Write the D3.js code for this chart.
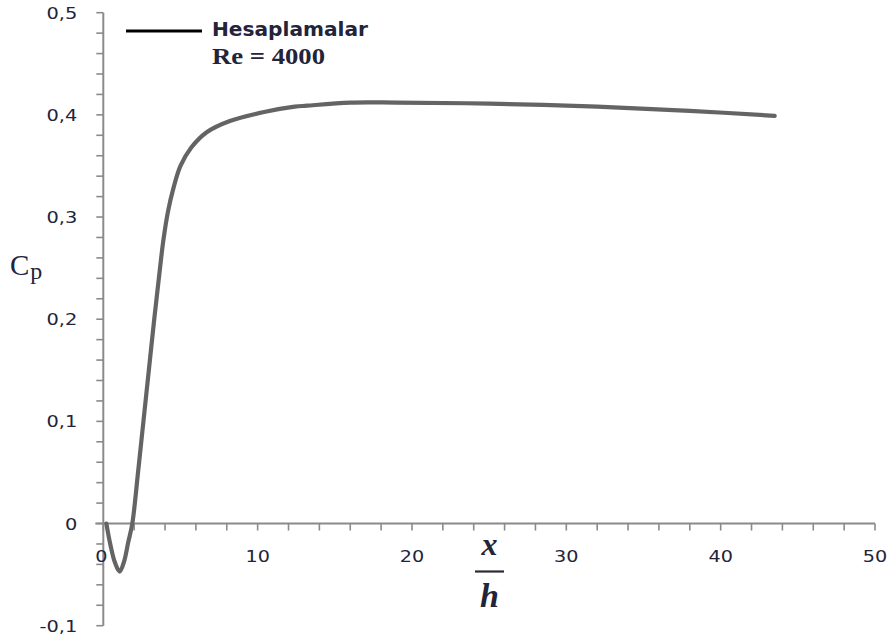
<!DOCTYPE html>
<html>
<head>
<meta charset="utf-8">
<script src="https://cdn.jsdelivr.net/npm/d3@7"></script>
<style>
  html, body { margin: 0; padding: 0; background: #fff; }
  svg { display: block; }
</style>
</head>
<body>
<svg id="chart" width="892" height="642"></svg>
<script>
// Pressure coefficient along the wall, Re = 4000
const xh = [0.2, 0.45, 0.75, 1.06, 1.35, 1.62, 1.88, 2.25, 2.6, 2.95, 3.3, 3.6, 3.89, 4.2, 4.54, 5.0, 5.7, 6.7, 8.2, 10.5, 12.4, 13.2, 16, 19, 25, 32, 38, 43.5];
const cp = [0, -0.02, -0.038, -0.047, -0.037, -0.018, 0, 0.05, 0.1, 0.15, 0.2, 0.24, 0.277, 0.306, 0.328, 0.35, 0.368, 0.383, 0.394, 0.403, 0.408, 0.409, 0.412, 0.412, 0.411, 0.408, 0.404, 0.399];

const xTicks = [0, 10, 20, 30, 40, 50];
const yTicks = [-0.1, 0, 0.1, 0.2, 0.3, 0.4, 0.5];
const legendTitle = "Hesaplamalar";
const legendSub = "Re = 4000";

const svg = d3.select("#chart");
const axisColor = "#8a8a8a";
const textColor = "#23233a";

const x = d3.scaleLinear().domain([0, 50]).range([103.3, 875]);
const y = d3.scaleLinear().domain([-0.1, 0.5]).range([625.7, 12.7]);

// decimal comma, plain hyphen for negatives
const yLabel = v => Math.abs(v) < 1e-9 ? "0" : (v < 0 ? "-" : "") + Math.abs(v).toFixed(1).replace(".", ",");

// y axis: major every 0.1, minor every 0.02
const yAxis = svg.append("g").attr("transform", `translate(${x(0)},0)`);
yAxis.append("line")
  .attr("x1", 0).attr("x2", 0)
  .attr("y1", y(0.5)).attr("y2", y(-0.1))
  .attr("stroke", axisColor).attr("stroke-width", 2);
yAxis.selectAll("line.tick")
  .data(d3.range(0, 31).map(i => -0.1 + i * 0.02))
  .join("line").attr("class", "tick")
  .attr("x1", -7).attr("x2", 0)
  .attr("y1", d => y(d)).attr("y2", d => y(d))
  .attr("stroke", axisColor).attr("stroke-width", 1.6);
yAxis.selectAll("text")
  .data(yTicks)
  .join("text")
  .attr("transform", d => `translate(-26,${y(d) + 6}) scale(1.25,1)`)
  .attr("text-anchor", "end")
  .attr("font-family", "DejaVu Sans, Verdana, sans-serif")
  .attr("font-size", 15.5)
  .attr("fill", textColor)
  .text(d => yLabel(d));

// x axis at Cp = 0: major every 10, minor every 2
const xAxis = svg.append("g").attr("transform", `translate(0,${y(0)})`);
xAxis.append("line")
  .attr("x1", x(0) - 8).attr("x2", x(50))
  .attr("y1", 0).attr("y2", 0)
  .attr("stroke", axisColor).attr("stroke-width", 2);
xAxis.selectAll("line.tick")
  .data(d3.range(0, 26).map(i => i * 2))
  .join("line").attr("class", "tick")
  .attr("x1", d => x(d)).attr("x2", d => x(d))
  .attr("y1", 0).attr("y2", 7)
  .attr("stroke", axisColor).attr("stroke-width", 1.6);
xAxis.selectAll("text")
  .data(xTicks)
  .join("text")
  .attr("transform", d => `translate(${x(d) - (d === 0 ? 2 : 0)},38.5) scale(1.2,1)`)
  .attr("text-anchor", "middle")
  .attr("font-family", "DejaVu Sans, Verdana, sans-serif")
  .attr("font-size", 16)
  .attr("fill", textColor)
  .text(d => d);

// curve
const line = d3.line()
  .x((d, i) => x(xh[i]))
  .y((d, i) => y(cp[i]))
  .curve(d3.curveCatmullRom.alpha(0.5));
svg.append("path")
  .datum(cp)
  .attr("d", line)
  .attr("fill", "none")
  .attr("stroke", "#646464")
  .attr("stroke-width", 4.2)
  .attr("stroke-linecap", "round")
  .attr("stroke-linejoin", "round");

// axis titles
const cpLabel = svg.append("text")
  .attr("x", 10).attr("y", 275)
  .attr("font-family", "Liberation Serif, Times New Roman, serif")
  .attr("fill", textColor);
cpLabel.append("tspan").attr("font-size", 29).text("C");
cpLabel.append("tspan").attr("font-size", 24).attr("dy", 4).attr("dx", 1).text("p");

const xhG = svg.append("g").attr("transform", "translate(489.5,0)");
xhG.append("text")
  .attr("x", 0).attr("y", 555)
  .attr("text-anchor", "middle")
  .attr("font-family", "Liberation Serif, Times New Roman, serif")
  .attr("font-style", "italic").attr("font-weight", "bold")
  .attr("font-size", 32)
  .attr("fill", textColor)
  .text("x");
xhG.append("line")
  .attr("x1", -14.5).attr("x2", 14.5)
  .attr("y1", 571.5).attr("y2", 571.5)
  .attr("stroke", "#2a2a3a").attr("stroke-width", 2.2);
xhG.append("text")
  .attr("x", 0).attr("y", 607)
  .attr("text-anchor", "middle")
  .attr("font-family", "Liberation Serif, Times New Roman, serif")
  .attr("font-style", "italic").attr("font-weight", "bold")
  .attr("font-size", 34)
  .attr("fill", textColor)
  .text("h");

// legend
const leg = svg.append("g");
leg.append("line")
  .attr("x1", 126).attr("x2", 202)
  .attr("y1", 31).attr("y2", 31)
  .attr("stroke", "#000").attr("stroke-width", 3);
leg.append("text")
  .attr("x", 212).attr("y", 35.5)
  .attr("font-family", "DejaVu Sans, Tahoma, sans-serif")
  .attr("font-weight", "bold")
  .attr("font-size", 20)
  .attr("textLength", 156).attr("lengthAdjust", "spacingAndGlyphs")
  .attr("fill", textColor)
  .text(legendTitle);
leg.append("text")
  .attr("x", 212).attr("y", 64)
  .attr("font-family", "Liberation Serif, Times New Roman, serif")
  .attr("font-weight", "bold")
  .attr("font-size", 23.5)
  .attr("textLength", 113).attr("lengthAdjust", "spacingAndGlyphs")
  .attr("fill", textColor)
  .text(legendSub);
</script>
</body>
</html>
